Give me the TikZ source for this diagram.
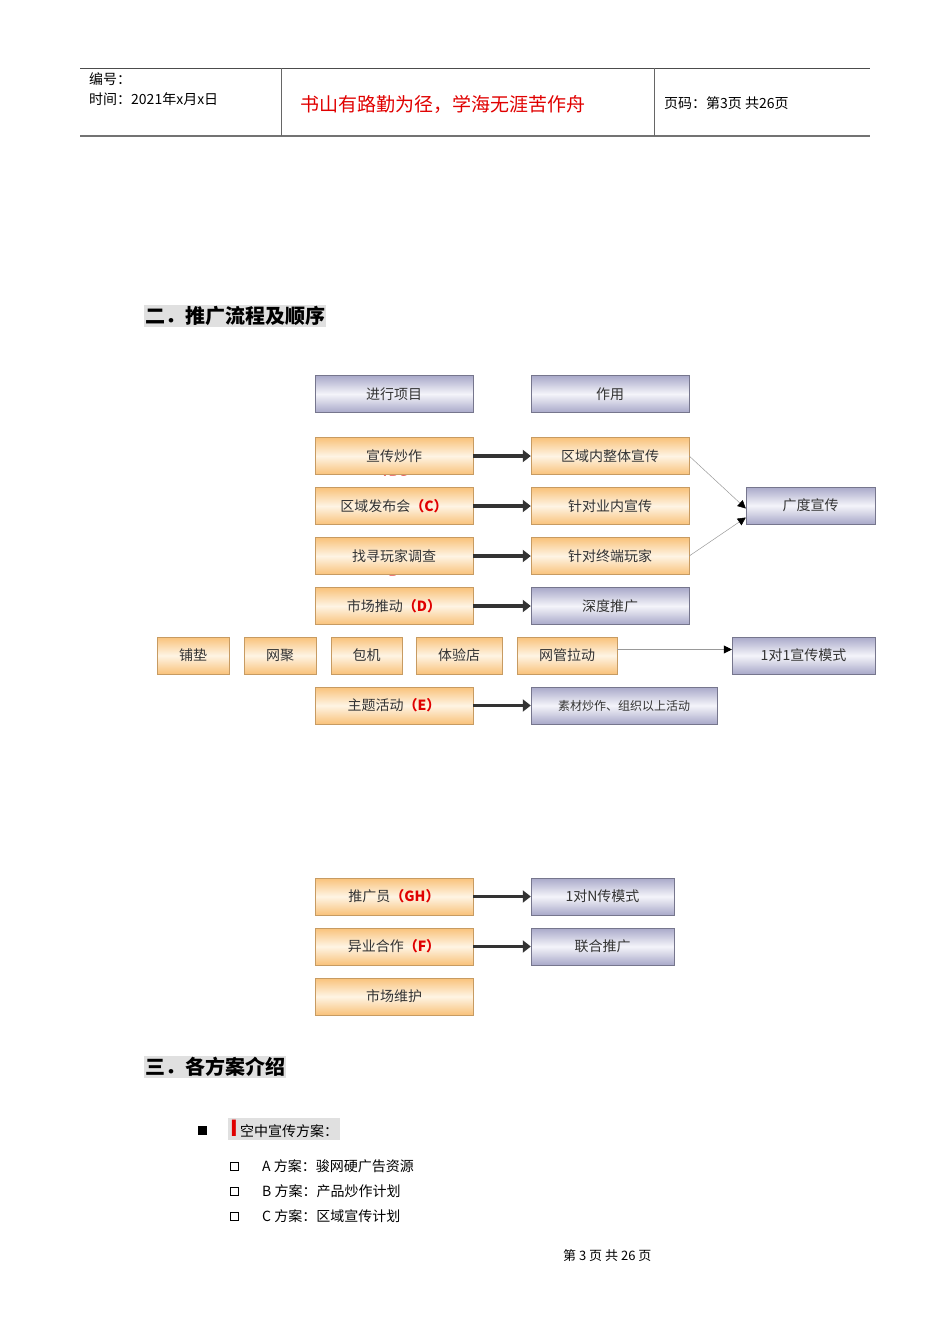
\documentclass[tikz,border=0pt]{standalone}
\usepackage{fontspec}
\setmainfont{Liberation Serif}
\newfontfamily\cjk{Noto Sans CJK SC}
\usetikzlibrary{arrows.meta}
\definecolor{org}{HTML}{F9C27A}
\definecolor{orgl}{HTML}{FEF4E4}
\definecolor{pur}{HTML}{A9A9C9}
\definecolor{purl}{HTML}{F4F4FA}
\definecolor{redt}{HTML}{E00000}
\tikzset{
 ob/.style={draw=org!80!black, top color=org, bottom color=org, middle color=orgl, minimum height=37pt, inner sep=0pt, font=\cjk\fontsize{14}{14}\selectfont, text=black!80},
 pb/.style={draw=pur!70!black, top color=pur, bottom color=pur, middle color=purl, minimum height=37pt, inner sep=0pt, font=\cjk\fontsize{14}{14}\selectfont, text=black!80},
 thick arr/.style={line width=3.5pt, draw=black!80, -{Triangle[length=8pt,width=12pt]}},
 thin arr/.style={draw=black!40, line width=0.5pt, -{Triangle[length=8pt,width=8pt,color=black]}},
 hd/.style={fill=black!12, inner sep=1pt, font=\cjk\bfseries\fontsize{20}{20}\selectfont, anchor=west},
 tx/.style={font=\cjk\fontsize{14}{14}\selectfont, anchor=west, inner sep=0pt}
}
\newcommand{\myred}[1]{\textcolor{redt}{\bfseries #1}}
\begin{document}
\begin{tikzpicture}[x=1pt,y=-1pt]
\useasboundingbox (0,0) rectangle (950,1344);
% header
\draw[black!70, line width=1pt] (80,68) -- (870,68);
\draw[black!55, line width=1.5pt] (80,136) -- (870,136);
\draw[black!60] (281,68) -- (281,136) (654,68) -- (654,136);
\node[tx] (h1) at (89,79) {编号：};
\node[tx] (h2) at (89,99) {时间：2021年x月x日};
\node[tx, text=redt, font=\cjk\fontsize{19}{19}\selectfont] (h3) at (300,104) {书山有路勤为径，学海无涯苦作舟};
\node[tx] (h4) at (664,103) {页码：第3页 共26页};
% headings
\node[hd] (s1) at (144,316) {二．推广流程及顺序};
\node[hd] (s2) at (144,1067) {三．各方案介绍};
% column titles
\node[pb, minimum width=158pt] (t1) at (394,394) {进行项目};
\node[pb, minimum width=158pt] (t2) at (610,394) {作用};
% rows
\node[ob, minimum width=158pt] (a1) at (394,456) {宣传炒作};
\begin{scope}
\clip (315,438) rectangle (473,475);
\node[font=\bfseries\fontsize{13}{13}\selectfont, text=redt] (a1s) at (394,480) {（ABC）};
\end{scope}
\node[ob, minimum width=158pt] (a2) at (394,506) {区域发布会\myred{（C）}};
\node[ob, minimum width=158pt] (a3) at (394,556) {找寻玩家调查};
\begin{scope}
\clip (315,538) rectangle (473,575);
\node[font=\bfseries\fontsize{13}{13}\selectfont, text=redt] (a3s) at (394,580) {（D）};
\end{scope}
\node[ob, minimum width=158pt] (a4) at (394,606) {市场推动\myred{（D）}};
\node[ob, minimum width=158pt] (b1) at (610,456) {区域内整体宣传};
\node[ob, minimum width=158pt] (b2) at (610,506) {针对业内宣传};
\node[ob, minimum width=158pt] (b3) at (610,556) {针对终端玩家};
\node[pb, minimum width=158pt] (b4) at (610,606) {深度推广};
\node[pb, minimum width=129pt] (c1) at (810.5,505.5) {广度宣传};
\foreach \i in {1,...,4} \draw[thick arr] (a\i) -- (b\i);
\draw[thin arr] (b1.east) -- ([yshift=-3pt]c1.west);
\draw[thin arr] (b3.east) -- ([yshift=-12pt]c1.west);
% row of small boxes
\node[ob, minimum width=72pt] (d1) at (193,655.5) {铺垫};
\node[ob, minimum width=72pt] (d2) at (280,655.5) {网聚};
\node[ob, minimum width=71pt] (d3) at (366.5,655.5) {包机};
\node[ob, minimum width=86pt] (d4) at (459,655.5) {体验店};
\node[ob, minimum width=100pt] (d5) at (567,655.5) {网管拉动};
\node[pb, minimum width=143pt] (e1) at (803.5,655.5) {1对1宣传模式};
\draw[thin arr] ([yshift=6pt]d5.east) -- ([yshift=6pt]e1.west);
\node[ob, minimum width=158pt] (a5) at (394,705.5) {主题活动\myred{（E）}};
\node[pb, minimum width=186pt, font=\cjk\fontsize{12}{12}\selectfont] (b5) at (624,705.5) {素材炒作、组织以上活动};
\draw[thick arr] (a5) -- (b5);
% lower group
\node[ob, minimum width=158pt] (a6) at (394,896.5) {推广员\myred{（GH）}};
\node[pb, minimum width=143pt] (b6) at (602.5,896.5) {1对N传模式};
\node[ob, minimum width=158pt] (a7) at (394,946.5) {异业合作\myred{（F）}};
\node[pb, minimum width=143pt] (b7) at (602.5,946.5) {联合推广};
\node[ob, minimum width=158pt] (a8) at (394,996.5) {市场维护};
\draw[thick arr] (a6) -- (b6);
\draw[thick arr] (a7) -- (b7);
% list
\node[fill=black, minimum size=9pt, inner sep=0pt] (bl) at (202,1130) {};
\node[tx, fill=black!12, inner sep=2pt] (l0) at (228,1129) {\textcolor{redt}{\bfseries\fontsize{22}{22}\selectfont I}\,空中宣传方案：};
\foreach \y/\t [count=\k] in {1166/A 方案：骏网硬广告资源, 1191/B 方案：产品炒作计划, 1216/C 方案：区域宣传计划}{
 \node[draw=black, line width=0.8pt, minimum size=8pt, inner sep=0pt] (sq\k) at (234,\y) {};
 \node[tx] (li\k) at (262,\y) {\t};
}
\node[tx, font=\cjk\fontsize{13}{13}\selectfont] (ft) at (563,1256) {第 3 页 共 26 页};
\end{tikzpicture}
\end{document}
